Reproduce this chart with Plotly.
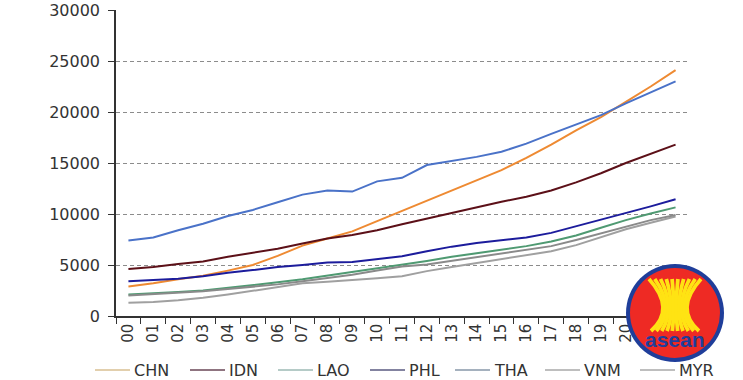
import plotly.graph_objects as go

years = ["00", "01", "02", "03", "04", "05", "06", "07", "08", "09", "10", "11",
         "12", "13", "14", "15", "16", "17", "18", "19", "20", "21", "22"]

CHN = [2900, 3200, 3600, 3950, 4450, 5000, 5900, 6900, 7600, 8300, 9300, 10300,
       11300, 12300, 13300, 14300, 15500, 16800, 18200, 19500, 21000, 22500, 24100]
IDN = [4600, 4800, 5100, 5350, 5800, 6200, 6600, 7100, 7600, 7950, 8400, 9000,
       9550, 10150, 10700, 11200, 11700, 12300, 13100, 14000, 15000, 15900, 16800]
LAO = [2100, 2200, 2350, 2500, 2750, 3000, 3300, 3600, 3950, 4300, 4650, 5000,
       5400, 5800, 6150, 6500, 6850, 7300, 7900, 8650, 9400, 10050, 10650]
PHL = [3400, 3500, 3650, 3900, 4250, 4500, 4800, 5000, 5250, 5300, 5600, 5850,
       6350, 6800, 7150, 7400, 7700, 8150, 8800, 9400, 10050, 10750, 11450]
THA = [7400, 7700, 8400, 9050, 9800, 10400, 11150, 11900, 12300, 12200, 13200, 13550,
       14800, 15200, 15600, 16100, 16900, 17850, 18750, 19700, 20850, 21900, 23000]
VNM = [1300, 1380, 1550, 1780, 2100, 2450, 2850, 3200, 3350, 3500, 3700, 3900,
       4400, 4800, 5200, 5550, 5950, 6350, 6950, 7700, 8500, 9150, 9750]
MYR = [2000, 2120, 2280, 2430, 2650, 2850, 3100, 3400, 3700, 4050, 4450, 4850,
       5050, 5400, 5800, 6150, 6450, 6850, 7450, 8100, 8800, 9400, 9900]

names = ["CHN", "IDN", "LAO", "PHL", "THA", "VNM", "MYR"]
values = [CHN, IDN, LAO, PHL, THA, VNM, MYR]
line_colors = ["#ee8a32", "#5c1018", "#4f9a72", "#1c1c9c", "#4a72c8", "#a0a0a0", "#8a8a8a"]
legend_colors = ["#d9bf92", "#6a4656", "#9cbab4", "#5a5a80", "#8797a8", "#a8a8a8", "#a8a8a8"]

FONT = "DejaVu Sans"
W, H = 743, 380
L, R, T, B = 116, 55, 10, 64
PW, PH = W - L - R, H - T - B


def px(x):
    return (x - L) / PW


def py(y):
    return (H - B - y) / PH


fig = go.Figure()
for name, vals, col in zip(names, values, line_colors):
    fig.add_trace(go.Scatter(x=years, y=vals, name=name, mode="lines",
                             line=dict(color=col, width=2), showlegend=False))

fig.update_layout(
    width=W, height=H,
    margin=dict(l=L, r=R, t=T, b=B, autoexpand=False),
    paper_bgcolor="white", plot_bgcolor="white",
    font=dict(family=FONT, size=15, color="#333333"),
    showlegend=False,
    xaxis=dict(type="category", range=[-0.5, 22.5], showgrid=False, automargin=False,
               showline=True, linecolor="#333333", linewidth=1.5,
               ticks="outside", tickson="boundaries", ticklen=6, tickcolor="#333333",
               tickangle=-90, tickfont=dict(family=FONT, size=15, color="#333333")),
    yaxis=dict(range=[0, 30000], dtick=5000, showgrid=True, gridcolor="#8c8c8c",
               griddash="4px,3px", gridwidth=1, automargin=False,
               showline=True, linecolor="#333333", linewidth=1.5,
               ticks="outside", ticklen=6, tickcolor="#333333", zeroline=False,
               tickformat="d", ticklabelstandoff=5,
               tickfont=dict(family=FONT, size=16, color="#333333")),
)

shapes = []
# custom legend (lines as shapes, labels as text)
leg_x = [95, 190, 278, 370, 455, 545, 640]
leg_y = 370
for name, col, lx in zip(names, legend_colors, leg_x):
    shapes.append(dict(type="line", xref="paper", yref="paper",
                       x0=px(lx), x1=px(lx + 35), y0=py(leg_y), y1=py(leg_y),
                       line=dict(color=col, width=1.5)))
    fig.add_annotation(xref="paper", yref="paper", x=px(lx + 37), y=py(leg_y),
                       text=name, showarrow=False, xanchor="left", yanchor="middle",
                       font=dict(family=FONT, size=16, color="#333333"))

# ASEAN logo (decorative)
cx, cy, r1, r2 = 675, 313, 49, 45
shapes += [
    dict(type="circle", xref="paper", yref="paper", x0=px(cx - r1), x1=px(cx + r1),
         y0=py(cy + r1), y1=py(cy - r1), fillcolor="#1f3e9a", line=dict(width=0), layer="above"),
    dict(type="circle", xref="paper", yref="paper", x0=px(cx - r2), x1=px(cx + r2),
         y0=py(cy + r2), y1=py(cy - r2), fillcolor="#ee2a24", line=dict(width=0), layer="above"),
]
ytop, ymid, ybot = 279, 307, 331
for i in range(10):
    t = (i - 4.5) / 4.5
    xt = cx + t * 26
    xm = cx + t * 12
    xb = cx + t * 24
    c_x = 2 * xm - 0.5 * (xt + xb)
    c_y = 2 * ymid - 0.5 * (ytop + ybot)
    path = "M {:.4f},{:.4f} Q {:.4f},{:.4f} {:.4f},{:.4f}".format(
        px(xt), py(ytop), px(c_x), py(c_y), px(xb), py(ybot))
    shapes.append(dict(type="path", xref="paper", yref="paper", path=path,
                       line=dict(color="#ffe313", width=3.8), layer="above"))
fig.update_layout(shapes=shapes)
fig.add_annotation(xref="paper", yref="paper", x=px(cx), y=py(339), text="<b>asean</b>",
                   showarrow=False, xanchor="center", yanchor="middle",
                   font=dict(family="Liberation Sans", size=21, color="#1f3e9a"))

fig.write_html("out.html", config={"displayModeBar": False},
               post_script="document.body.style.margin='0';document.body.style.overflow='hidden';")
